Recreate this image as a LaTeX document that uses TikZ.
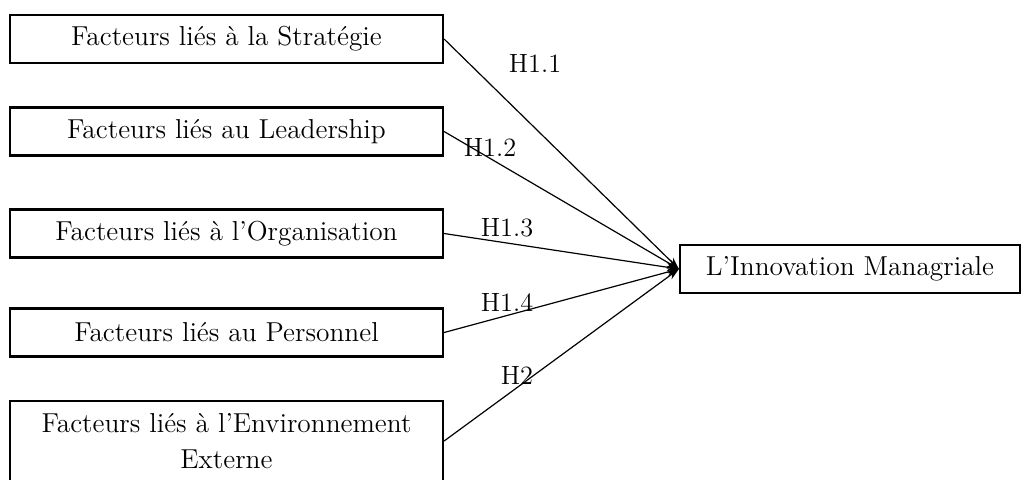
\documentclass[tikz,border=0pt]{standalone}
\usetikzlibrary{arrows.meta}
\begin{document}
\begin{tikzpicture}[x=0.5pt,y=-0.5pt,
    facteur/.style={draw,line width=1.1pt,minimum width=216.5pt,minimum height=24pt,inner sep=0pt,align=center,font=\fontsize{13.7}{18}\selectfont},
    lien/.style={-{Stealth[length=6pt,width=4pt]},line width=0.6pt},
    hyp/.style={font=\fontsize{13.2}{16}\selectfont,inner sep=0pt}]
    \clip (0,0) rectangle (1027,479);
    % facteurs
    \node [facteur] (strat) at (226.5,39) {Facteurs liés à la Stratégie};
    \node [facteur] (lead) at (226.5,131.5) {Facteurs liés au Leadership};
    \node [facteur] (orga) at (226.5,233.5) {Facteurs liés à l’Organisation};
    \node [facteur] (pers) at (226.5,332.5) {Facteurs liés au Personnel};
    \node [facteur,minimum height=40pt] (envi) at (226.5,441) {Facteurs liés à l’Environnement\\Externe};
    \node [facteur,minimum width=170pt] (innov) at (850,269) {L’Innovation Managriale};
    % hypotheses
    \foreach \src in {strat,lead,orga,pers,envi}
        \draw [lien] (\src.east) -- (innov.west);
    \node [hyp] (h11) at (535,63) {H1.1};
    \node [hyp] (h12) at (490,147) {H1.2};
    \node [hyp] (h13) at (507,228) {H1.3};
    \node [hyp] (h14) at (507,302) {H1.4};
    \node [hyp] (h2) at (517,375) {H2};
\end{tikzpicture}
\end{document}
